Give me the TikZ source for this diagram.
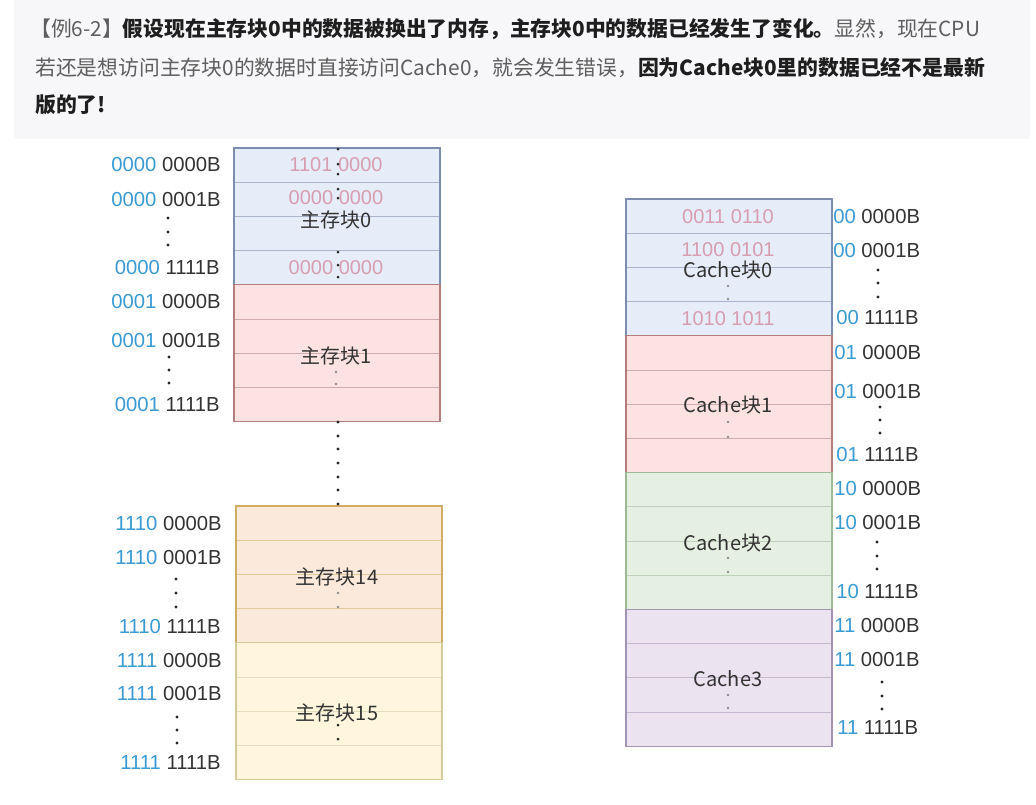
\documentclass[tikz,border=0pt]{standalone}
\usepackage{fontspec}
\setmainfont{Liberation Sans}
\newfontfamily\cjk{Noto Sans CJK SC}
\definecolor{bandgray}{HTML}{F7F7F9}
\definecolor{txtgray}{HTML}{5E5E5E}
\definecolor{txtblack}{HTML}{1E1E1E}
\definecolor{addrblue}{HTML}{3A9AD4}
\definecolor{addrblk}{HTML}{333333}
\definecolor{datapink}{HTML}{D79DB0}
\definecolor{lblblk}{HTML}{333333}
\definecolor{bzf}{HTML}{E7EDF8}\definecolor{bzs}{HTML}{7D8DB0}
\definecolor{bof}{HTML}{FCE2E1}\definecolor{bos}{HTML}{B27F7E}
\definecolor{bff}{HTML}{FBEADB}\definecolor{bfs}{HTML}{D2AE62}
\definecolor{bvf}{HTML}{FFF6DD}\definecolor{bvs}{HTML}{D6CA9B}
\definecolor{cgf}{HTML}{E5F0E2}\definecolor{cgs}{HTML}{9DB996}
\definecolor{cpf}{HTML}{ECE3F0}\definecolor{cps}{HTML}{A493B3}
\tikzset{
  rowcell/.style={rectangle, minimum width=154.5pt, minimum height=25.65pt, inner sep=0pt, line width=0.7pt},
  blockbox/.style={rectangle, minimum width=154.5pt, minimum height=102.6pt, inner sep=0pt, line width=0.9pt},
  blklabel/.style={inner sep=0pt, text=lblblk, font=\cjk\fontsize{15}{18}\selectfont},
  datatext/.style={inner sep=0pt, text=datapink, font=\fontsize{15}{17}\selectfont},
  addrL/.style={inner sep=0pt, anchor=east, text=addrblk, font=\fontsize{15.2}{17}\selectfont},
  addrR/.style={inner sep=0pt, anchor=west, text=addrblk, font=\fontsize{15.2}{17}\selectfont},
  dotb/.style={fill=black!85},
  dotg/.style={fill=black!45},
}
\newcommand\memblk[5]{%
  \foreach \i in {1,...,4} {
    \node[rowcell, fill=#4, draw=#5!65!white] (#1-\i) at ({#2+103},{#3+34.2*\i-17.1}) {};
  }
  \node[blockbox, draw=#5] (#1) at ({#2+103},{#3+68.4}) {};
}
\begin{document}
\begin{tikzpicture}[x=0.75pt,y=-0.75pt]
\useasboundingbox (0,0) rectangle (1036,804);
\fill[white] (0,0) rectangle (1036,804);
\fill[bandgray] (14,0) rectangle (1030,139);
% top text
\begin{scope}[every node/.style={inner sep=0pt, anchor=west, font=\cjk\fontsize{15.6}{18}\selectfont}]
\node (t1) at (30,29) {\color{txtgray}【例6-2】{\bfseries\color{txtblack}假设现在主存块0中的数据被换出了内存，主存块0中的数据已经发生了变化。}显然，现在CPU};
\node (t2) at (35,68) {\color{txtgray}若还是想访问主存块0的数据时直接访问Cache0，就会发生错误，{\bfseries\color{txtblack}因为Cache块0里的数据已经不是最新}};
\node (t3) at (35,105) {\bfseries\color{txtblack}版的了!};
\end{scope}
% main memory blocks
\memblk{m0}{234}{148}{bzf}{bzs}
\memblk{m1}{234}{284.8}{bof}{bos}
\memblk{m14}{236}{506}{bff}{bfs}
\memblk{m15}{236}{642.8}{bvf}{bvs}
% cache blocks
\memblk{c0}{626}{199}{bzf}{bzs}
\memblk{c1}{626}{335.8}{bof}{bos}
\memblk{c2}{626}{472.6}{cgf}{cgs}
\memblk{c3}{626}{609.4}{cpf}{cps}
% block labels
\node[blklabel] (m0l) at (336,220) {主存块0};
\node[blklabel] (m1l) at (336,356) {主存块1};
\node[blklabel] (m14l) at (337,577) {主存块14};
\node[blklabel] (m15l) at (337,713) {主存块15};
\node[blklabel] (c0l) at (728,270) {Cache块0};
\node[blklabel] (c1l) at (728,405) {Cache块1};
\node[blklabel] (c2l) at (728,543) {Cache块2};
\node[blklabel] (c3l) at (728,679) {Cache3};
% data values
\node[datatext] (d1) at (336,165) {1101 0000};
\node[datatext] (d2) at (336,198) {0000 0000};
\node[datatext] (d3) at (336,268) {0000 0000};
\node[datatext] (e1) at (728,217) {0011 0110};
\node[datatext] (e2) at (728,250) {1100 0101};
\node[datatext] (e3) at (728,319) {1010 1011};
% left addresses
\node[addrL] (la1) at (221,165) {\textcolor{addrblue}{0000} 0000B};
\node[addrL] (la2) at (221,200) {\textcolor{addrblue}{0000} 0001B};
\node[addrL] (la3) at (220,268) {\textcolor{addrblue}{0000} 1111B};
\node[addrL] (la4) at (221,302) {\textcolor{addrblue}{0001} 0000B};
\node[addrL] (la5) at (221,341) {\textcolor{addrblue}{0001} 0001B};
\node[addrL] (la6) at (220,405) {\textcolor{addrblue}{0001} 1111B};
\node[addrL] (la7) at (222,524) {\textcolor{addrblue}{1110} 0000B};
\node[addrL] (la8) at (222,558) {\textcolor{addrblue}{1110} 0001B};
\node[addrL] (la9) at (221,627) {\textcolor{addrblue}{1110} 1111B};
\node[addrL] (la10) at (222,661) {\textcolor{addrblue}{1111} 0000B};
\node[addrL] (la11) at (222,694) {\textcolor{addrblue}{1111} 0001B};
\node[addrL] (la12) at (221,763) {\textcolor{addrblue}{1111} 1111B};
% right addresses
\node[addrR] (ra1) at (833,217) {\textcolor{addrblue}{00} 0000B};
\node[addrR] (ra2) at (833,251) {\textcolor{addrblue}{00} 0001B};
\node[addrR] (ra3) at (836,318) {\textcolor{addrblue}{00} 1111B};
\node[addrR] (ra4) at (834,353) {\textcolor{addrblue}{01} 0000B};
\node[addrR] (ra5) at (834,392) {\textcolor{addrblue}{01} 0001B};
\node[addrR] (ra6) at (836,455) {\textcolor{addrblue}{01} 1111B};
\node[addrR] (ra7) at (834,489) {\textcolor{addrblue}{10} 0000B};
\node[addrR] (ra8) at (834,523) {\textcolor{addrblue}{10} 0001B};
\node[addrR] (ra9) at (836,592) {\textcolor{addrblue}{10} 1111B};
\node[addrR] (ra10) at (834,626) {\textcolor{addrblue}{11} 0000B};
\node[addrR] (ra11) at (834,660) {\textcolor{addrblue}{11} 0001B};
\node[addrR] (ra12) at (837,728) {\textcolor{addrblue}{11} 1111B};
% address ellipses
\foreach \x/\a/\b/\c in {168/218/232/245, 169/357/370/383, 176/579/593/607, 177/717/730/743,
                         878/270/283/297, 880/407/420/433, 877/542/556/569, 882/682/696/709}
  \foreach \y in {\a,\b,\c} \fill[dotb] (\x,\y) circle (1.7);
% dots inside main block 0
\foreach \y in {149,164,174,189,198,252,265,277} \fill[dotb] (338,\y) circle (1.5);
% gray dots inside blocks
\foreach \x/\y in {336/372, 336/384, 338/593, 338/607, 728/286, 728/299, 728/422, 728/437, 728/558, 728/572, 728/695, 728/708}
  \fill[dotg] (\x,\y) circle (1.4);
\foreach \y in {725,739} \fill[dotb] (338,\y) circle (1.5);
% ellipsis between main block 1 and 14
\foreach \y in {422,436,449,463,477,490,504} \fill[dotb] (338,\y) circle (1.7);
\end{tikzpicture}
\end{document}
